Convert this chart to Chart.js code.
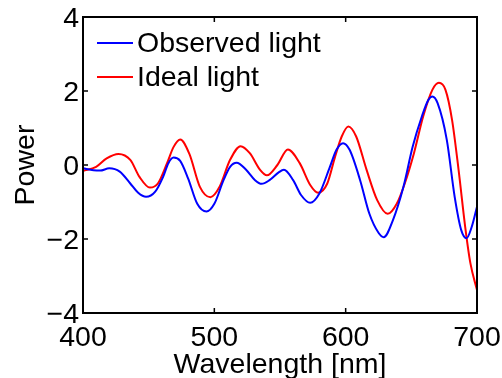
<!DOCTYPE html>
<html>
<head>
<meta charset="utf-8">
<script src="https://cdn.jsdelivr.net/npm/chart.js@4"></script>
<style>
  html, body { margin: 0; padding: 0; background: #ffffff; }
  #wrap { width: 502px; height: 378px; }
</style>
</head>
<body>
<div id="wrap"><canvas id="c" width="502" height="378"></canvas></div>
<script>
// Measured spectra: wavelength (nm) and power for each light source
const observedNm = [400, 408, 413, 420, 428, 436, 442, 448, 455, 461, 465, 469, 474, 480, 487, 494, 500, 507, 512, 517, 524, 531, 536, 542, 549, 553, 560, 566, 573, 580, 588, 593, 598, 603, 611, 618, 625, 629, 636, 644, 651, 658, 663, 666, 670, 677, 683, 688, 692, 696, 700];
const observedPower = [-0.09, -0.14, -0.15, -0.09, -0.18, -0.50, -0.75, -0.86, -0.72, -0.32, 0.05, 0.20, 0.11, -0.36, -1.05, -1.26, -1.05, -0.41, -0.05, 0.06, -0.12, -0.41, -0.51, -0.41, -0.20, -0.13, -0.41, -0.81, -1.02, -0.77, -0.05, 0.41, 0.59, 0.41, -0.41, -1.31, -1.83, -1.95, -1.49, -0.59, 0.49, 1.31, 1.76, 1.85, 1.67, 0.68, -0.86, -1.76, -1.98, -1.67, -1.13];

const idealNm = [400, 410, 418, 427, 436, 443, 451, 457, 464, 469, 474, 481, 489, 497, 504, 512, 520, 527, 535, 540, 548, 556, 565, 573, 579, 586, 592, 597, 602, 608, 616, 624, 632, 639, 645, 652, 659, 666, 671, 676, 681, 686, 691, 695, 700];
const idealPower = [-0.16, -0.05, 0.18, 0.30, 0.14, -0.32, -0.61, -0.50, 0.05, 0.49, 0.69, 0.30, -0.59, -0.87, -0.59, 0.14, 0.51, 0.32, -0.14, -0.28, 0.00, 0.42, 0.05, -0.54, -0.75, -0.50, 0.23, 0.77, 1.04, 0.77, -0.14, -0.95, -1.32, -1.04, -0.50, 0.32, 1.31, 2.03, 2.22, 2.03, 1.22, -0.14, -1.67, -2.66, -3.38];

const seriesNames = ['Observed light', 'Ideal light'];
const seriesColors = ['#0000ff', '#ff0000'];

const xTicks = [400, 500, 600, 700];
const yTicks = [-4, -2, 0, 2, 4];
const xTitle = 'Wavelength [nm]';
const yTitle = 'Power';

const FONT = '"Liberation Sans", Arial, Helvetica, sans-serif';
const FONT_SIZE = 28.5;

function toPoints(xs, ys) {
  return xs.map((x, i) => ({ x: x, y: ys[i] }));
}

function minusSign(v) {
  return v < 0 ? '\u2212' + Math.abs(v) : String(v);
}

// Let the layout padding alone decide where the plot box sits
function clearScalePadding(s) {
  s.paddingLeft = 0;
  s.paddingRight = 0;
  s.paddingTop = 0;
  s.paddingBottom = 0;
}

// Closed axes box with inward tick marks on all four sides, plus the legend
const framePlugin = {
  id: 'frame',
  afterDatasetsDraw(chart) {
    const { ctx, chartArea: a, scales } = chart;
    const xs = scales.x, ys = scales.y;
    const tickLen = 5;
    ctx.save();
    ctx.strokeStyle = '#000000';
    ctx.lineWidth = 1.5;
    ctx.beginPath();
    xs.ticks.forEach(t => {
      const px = xs.getPixelForValue(t.value);
      ctx.moveTo(px, a.bottom); ctx.lineTo(px, a.bottom - tickLen);
      ctx.moveTo(px, a.top); ctx.lineTo(px, a.top + tickLen);
    });
    ys.ticks.forEach(t => {
      const py = ys.getPixelForValue(t.value);
      ctx.moveTo(a.left, py); ctx.lineTo(a.left + tickLen, py);
      ctx.moveTo(a.right, py); ctx.lineTo(a.right - tickLen, py);
    });
    ctx.stroke();
    ctx.lineWidth = 2;
    ctx.strokeRect(a.left, a.top, a.right - a.left, a.bottom - a.top);

    // legend entries
    ctx.font = FONT_SIZE + 'px ' + FONT;
    ctx.textBaseline = 'middle';
    ctx.textAlign = 'left';
    chart.data.datasets.forEach((ds, i) => {
      const ly = a.top + 26 + i * 34;
      const lx = a.left + 14;
      ctx.strokeStyle = ds.borderColor;
      ctx.lineWidth = 2;
      ctx.beginPath();
      ctx.moveTo(lx, ly);
      ctx.lineTo(lx + 36, ly);
      ctx.stroke();
      ctx.fillStyle = '#000000';
      ctx.fillText(ds.label, lx + 40, ly + 1);
    });
    ctx.restore();
  }
};

new Chart(document.getElementById('c'), {
  type: 'line',
  data: {
    datasets: [
      {
        label: seriesNames[0],
        data: toPoints(observedNm, observedPower),
        borderColor: seriesColors[0],
        backgroundColor: seriesColors[0],
        borderWidth: 2,
        pointRadius: 0,
        cubicInterpolationMode: 'monotone',
        fill: false
      },
      {
        label: seriesNames[1],
        data: toPoints(idealNm, idealPower),
        borderColor: seriesColors[1],
        backgroundColor: seriesColors[1],
        borderWidth: 2,
        pointRadius: 0,
        cubicInterpolationMode: 'monotone',
        fill: false
      }
    ]
  },
  options: {
    responsive: false,
    animation: false,
    devicePixelRatio: 1,
    layout: { padding: { top: 17, right: 25, bottom: 0, left: 0 } },
    plugins: {
      legend: { display: false },
      tooltip: { enabled: false }
    },
    scales: {
      x: {
        type: 'linear',
        min: 400,
        max: 700,
        afterBuildTicks: s => { s.ticks = xTicks.map(v => ({ value: v })); },
        afterFit: s => { s.height = 65; clearScalePadding(s); },
        grid: { display: false, drawTicks: false },
        border: { display: false },
        ticks: {
          padding: 8,
          color: '#000000',
          font: { family: FONT, size: FONT_SIZE },
          maxRotation: 0,
          callback: v => minusSign(v)
        },
        title: {
          display: true,
          text: xTitle,
          color: '#000000',
          font: { family: FONT, size: FONT_SIZE, lineHeight: 0.9 },
          padding: { top: 0, bottom: 0 }
        }
      },
      y: {
        type: 'linear',
        min: -4,
        max: 4,
        afterBuildTicks: s => { s.ticks = yTicks.map(v => ({ value: v })); },
        afterFit: s => { s.width = 83; clearScalePadding(s); },
        grid: { display: false, drawTicks: false },
        border: { display: false },
        ticks: {
          padding: 4,
          labelOffset: 2,
          color: '#000000',
          font: { family: FONT, size: FONT_SIZE },
          callback: v => minusSign(v)
        },
        title: {
          display: true,
          text: yTitle,
          color: '#000000',
          font: { family: FONT, size: FONT_SIZE, lineHeight: 0.9 },
          padding: { top: 13, bottom: 0 }
        }
      }
    }
  },
  plugins: [framePlugin]
});
</script>
</body>
</html>
